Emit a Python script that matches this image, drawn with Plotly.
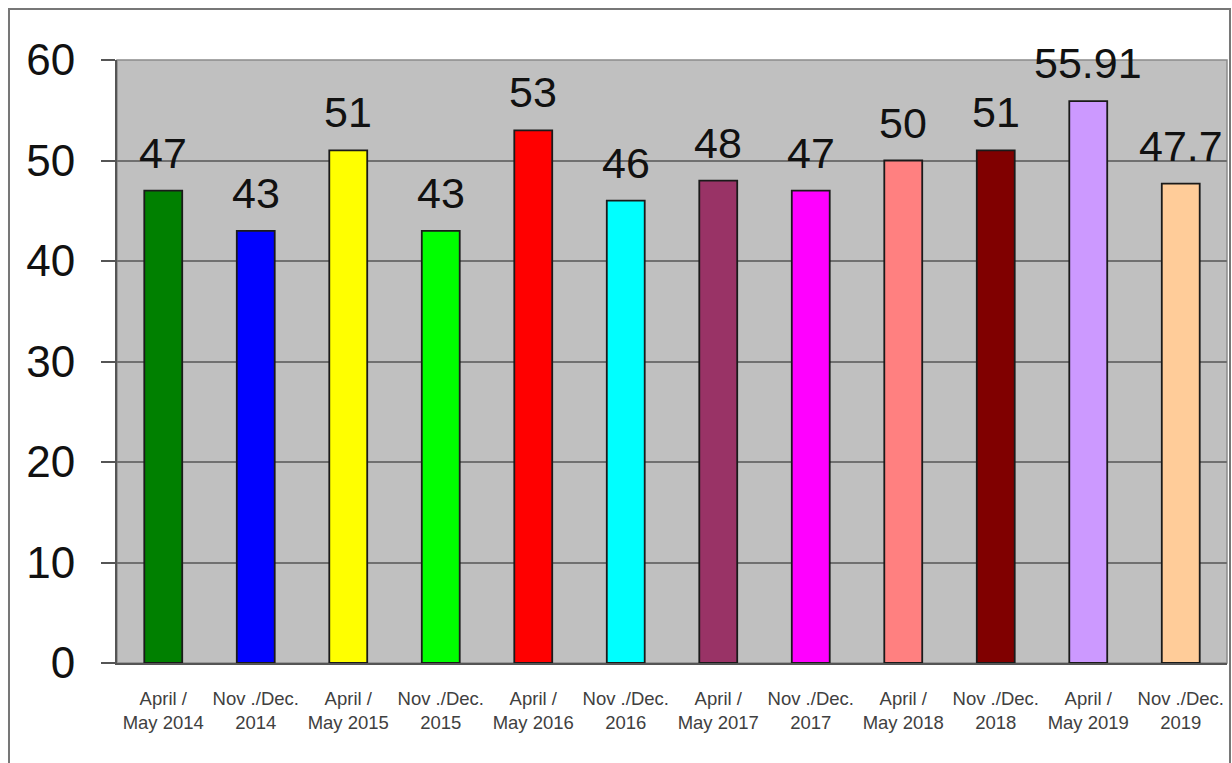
import plotly.graph_objects as go

categories = ["April /<br>May 2014", "Nov ./Dec.<br>2014", "April /<br>May 2015", "Nov ./Dec.<br>2015",
              "April /<br>May 2016", "Nov ./Dec.<br>2016", "April /<br>May 2017", "Nov ./Dec.<br>2017",
              "April /<br>May 2018", "Nov ./Dec.<br>2018", "April /<br>May 2019", "Nov ./Dec.<br>2019"]
values = [47, 43, 51, 43, 53, 46, 48, 47, 50, 51, 55.91, 47.7]
labels = ["47", "43", "51", "43", "53", "46", "48", "47", "50", "51", "55.91", "47.7"]
colors = ["#008000", "#0000FF", "#FFFF00", "#00FF00", "#FF0000", "#00FFFF",
          "#993366", "#FF00FF", "#FF8080", "#800000", "#CC99FF", "#FFCC99"]
y_ticks = [0, 10, 20, 30, 40, 50, 60]

FONT = "Liberation Sans, Arial, sans-serif"
x_idx = list(range(len(categories)))

fig = go.Figure()
fig.add_trace(go.Bar(
    x=x_idx, y=values,
    marker=dict(color=colors, line=dict(color="#1a1a1a", width=1.8)),
    width=0.41, showlegend=False, hoverinfo="x+y",
))

for i, (v, t) in enumerate(zip(values, labels)):
    fig.add_annotation(x=i, y=v, text=t, showarrow=False, xref="x", yref="y",
                       yanchor="bottom", yshift=12,
                       font=dict(family=FONT, size=43, color="#111111"))

# plot-area frame and outer border
fig.add_shape(type="rect", xref="paper", yref="paper", x0=0, x1=1, y0=0, y1=1,
              line=dict(color="#8a8a8a", width=1.5), layer="below")
fig.add_shape(type="rect", xref="paper", yref="paper", x0=-0.0973, x1=1.0027, y0=-0.35, y1=1.0846,
              line=dict(color="#777777", width=2))

fig.update_layout(
    width=1232, height=763,
    margin=dict(l=117, r=5, t=60, b=100),
    paper_bgcolor="white", plot_bgcolor="#C0C0C0",
    font=dict(family=FONT),
    bargap=0.59,
)
fig.update_xaxes(
    range=[-0.5, len(categories) - 0.5],
    tickmode="array", tickvals=x_idx, ticktext=categories,
    tickfont=dict(family=FONT, size=18.5, color="#404040"),
    showgrid=False, showline=True, linecolor="#555555", linewidth=2,
    ticks="outside", ticklen=18, tickcolor="rgba(0,0,0,0)",
    zeroline=False, fixedrange=True,
)
fig.update_yaxes(
    range=[0, 60], tickmode="array", tickvals=y_ticks,
    tickfont=dict(family=FONT, size=44, color="#111111"),
    showgrid=True, gridcolor="#707070", gridwidth=1.5,
    showline=True, linecolor="#555555", linewidth=2,
    ticks="outside", ticklen=14, tickcolor="#555555", tickwidth=2,
    ticklabelstandoff=17,
    zeroline=False, fixedrange=True,
)

fig.write_html("out.html", config={"displayModeBar": False},
               post_script="document.body.style.margin='0';document.body.style.overflow='hidden';")
